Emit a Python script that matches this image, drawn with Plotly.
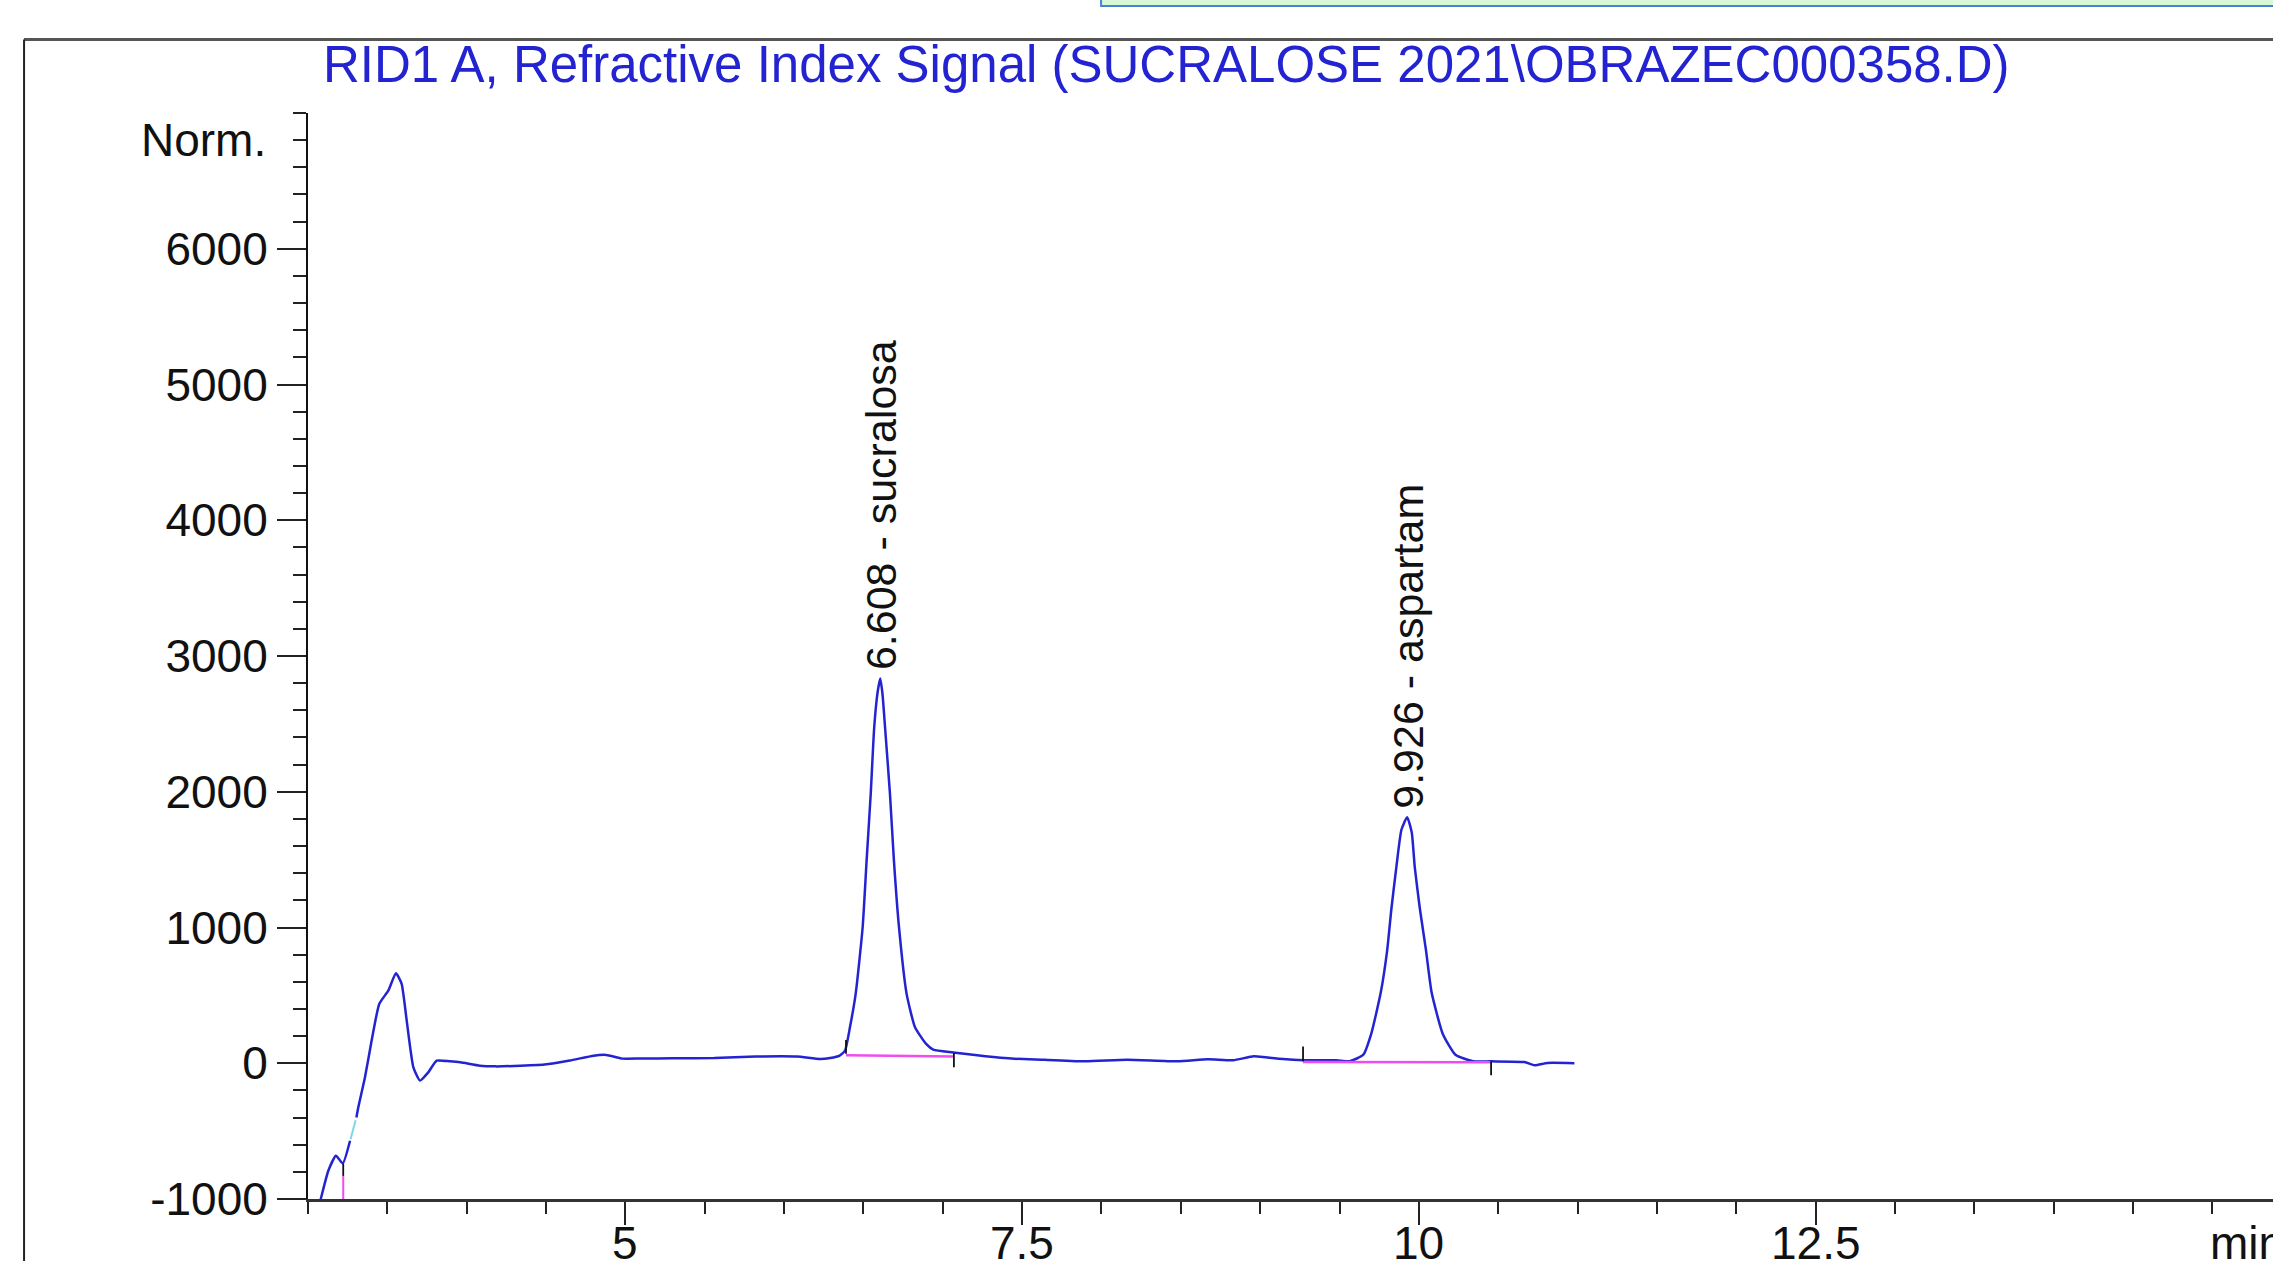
import plotly.graph_objects as go

# ---------------- data ----------------
TITLE = r"RID1 A, Refractive Index Signal (SUCRALOSE 2021\OBRAZEC000358.D)"
Y_LABEL = "Norm."
X_UNIT = "min"

# main detector trace (time in min, signal)
trace_t = [3.05, 3.08, 3.128, 3.176, 3.219, 3.265, None,
           3.305, 3.317, 3.359, 3.401, 3.449, 3.506, 3.554, 3.59, 3.622, 3.664,
           3.706, 3.758, 3.811, 3.895, 3.96, 4.084, 4.18, 4.30, 4.49, 4.65, 4.80,
           4.88, 4.98, 5.10, 5.30, 5.56, 5.82, 6.08, 6.226, 6.29, 6.35, 6.384,
           6.415, 6.451, 6.495, 6.520, 6.546, 6.568, 6.59, 6.606, 6.62, 6.636,
           6.667, 6.692, 6.724, 6.772, 6.825, 6.895, 6.94, 7.066, 7.23, 7.45,
           7.64, 7.90, 8.16, 8.48, 8.67, 8.83, 8.96, 9.12, 9.27, 9.48, 9.565,
           9.65, 9.70, 9.76, 9.80, 9.827, 9.858, 9.89, 9.926, 9.955, 9.974,
           10.006, 10.045, 10.08, 10.15, 10.23, 10.34, 10.455, 10.665, 10.73,
           10.81, 10.98]
trace_s = [-1130, -1001, -792, -681, -738, -571, None,
           -400, -325, -104, 167, 437, 535, 663, 585, 314, -30,
           -128, -67, 19, 14, 7, -18, -23, -20, -10, 20, 56,
           61, 34, 35, 36, 39, 49, 49, 31, 38, 56, 93,
           265, 511, 1002, 1494, 1986, 2477, 2740, 2834, 2720, 2477,
           1986, 1494, 1002, 511, 265, 142, 100, 80, 57, 33,
           26, 14, 26, 14, 29, 22, 51, 33, 22, 22, 15,
           63, 218, 523, 830, 1140, 1445, 1720, 1813, 1700, 1445,
           1140, 830, 523, 218, 63, 15, 14, 9, -15,
           2, 0]

# short light-cyan piece of the signal
cyan_t = [3.268, 3.30]
cyan_s = [-560, -420]

# identified peaks
peak_rt = [6.608, 9.926]
peak_name = ["sucralosa", "aspartam"]
peak_apex = [2834, 1813]

# integration baselines
base_t0 = [6.39, 9.27]
base_t1 = [7.07, 10.455]
base_s0 = [59, 10]
base_s1 = [49, 8]

# integration event tick marks
event_t = [3.222, 6.39, 7.07, 9.27, 10.455]
event_s0 = [-740, 70, 76, 15, 15]
event_s1 = [-830, 172, -30, 123, -88]

# baseline drop of the unresolved early peak
drop_t = [3.222, 3.222]
drop_s = [-830, -1000]

# axes
x_major = [5, 7.5, 10, 12.5]
x_major_text = ["5", "7.5", "10", "12.5"]
x_unit_pos = 15
y_major = [-1000, 0, 1000, 2000, 3000, 4000, 5000, 6000]
y_major_text = ["-1000", "0", "1000", "2000", "3000", "4000", "5000", "6000"]
y_label_pos = 6800

# ---------------- figure ----------------
FONT = "Liberation Sans, Arial, Helvetica, sans-serif"
BLUE = "#2323d2"
MAGENTA = "#f04cf0"

fig = go.Figure()

fig.add_trace(go.Scatter(x=trace_t, y=trace_s, mode="lines",
                         line=dict(color=BLUE, width=2.5, shape="spline",
                                   smoothing=0.5),
                         connectgaps=False, hoverinfo="skip"))
fig.add_trace(go.Scatter(x=cyan_t, y=cyan_s, mode="lines",
                         line=dict(color="#7fd6ea", width=2), hoverinfo="skip"))

# baselines
for t0, t1, s0, s1 in zip(base_t0, base_t1, base_s0, base_s1):
    fig.add_trace(go.Scatter(x=[t0, t1], y=[s0, s1], mode="lines",
                             line=dict(color=MAGENTA, width=2.5), hoverinfo="skip"))
fig.add_trace(go.Scatter(x=drop_t, y=drop_s, mode="lines",
                         line=dict(color=MAGENTA, width=2), hoverinfo="skip"))

# event ticks
ex, ey = [], []
for t, a, b in zip(event_t, event_s0, event_s1):
    ex += [t, t, None]
    ey += [a, b, None]
fig.add_trace(go.Scatter(x=ex, y=ey, mode="lines",
                         line=dict(color="#111111", width=1.8), hoverinfo="skip"))

# peak labels
for rt, name, apex in zip(peak_rt, peak_name, peak_apex):
    fig.add_annotation(x=rt, y=apex, xref="x", yref="y",
                       text=f"{rt:.3f} - {name}", showarrow=False,
                       textangle=-90, xanchor="center", yanchor="bottom",
                       yshift=6, font=dict(family=FONT, size=43, color="#111111"))

# y label "Norm."
fig.add_annotation(x=0, y=y_label_pos, xref="paper", yref="y", text=Y_LABEL,
                   showarrow=False, xanchor="right", yanchor="middle", xshift=-40,
                   font=dict(family=FONT, size=46, color="#111111"))

# x tick labels (drawn as annotations to match their distance from the axis)
for v, txt in zip(x_major, x_major_text):
    fig.add_annotation(x=v, y=0, xref="x", yref="paper", text=txt,
                       showarrow=False, xanchor="center", yanchor="top",
                       yshift=-16, font=dict(family=FONT, size=46, color="#111111"))
# x unit "min"
fig.add_annotation(x=x_unit_pos, y=0, xref="x", yref="paper", text=X_UNIT,
                   showarrow=False, xanchor="left", yanchor="top", yshift=-16,
                   xshift=-4, font=dict(family=FONT, size=46, color="#111111"))

# title
fig.add_annotation(x=0.437, y=1.0446, xref="paper", yref="paper", text=TITLE,
                   showarrow=False, xanchor="center", yanchor="middle",
                   font=dict(family=FONT, size=51, color=BLUE))

# outer frame and the clipped panel above
fig.add_shape(type="line", xref="paper", yref="paper", x0=-0.1445, x1=1.2,
              y0=1.0676, y1=1.0676, line=dict(color="#555555", width=3))
fig.add_shape(type="line", xref="paper", yref="paper", x0=-0.1445, x1=-0.1445,
              y0=-0.3, y1=1.0676, line=dict(color="#222222", width=2))
fig.add_shape(type="rect", xref="paper", yref="paper", x0=0.4036, x1=1.2,
              y0=1.0985, y1=1.2, fillcolor="#d6f8d6",
              line=dict(color="#4a80d8", width=2))

fig.update_xaxes(range=[3, 15.382], tickmode="array", tickvals=x_major,
                 ticktext=["" for _ in x_major], ticks="outside", ticklen=23,
                 tickwidth=2, tickcolor="#222222", showline=True,
                 linecolor="#333333", linewidth=2.5, showgrid=False,
                 zeroline=False, automargin=False,
                 tickfont=dict(family=FONT, size=46, color="#111111"),
                 minor=dict(ticks="outside", ticklen=12, tickwidth=2,
                            tickcolor="#222222", tick0=3, dtick=0.5,
                            showgrid=False))
fig.update_yaxes(range=[-1000, 7000], tickmode="array", tickvals=y_major,
                 ticktext=y_major_text,
                 ticks="outside", ticklen=29, tickwidth=2, tickcolor="#222222",
                 showline=True, linecolor="#111111", linewidth=2,
                 showgrid=False, zeroline=False, automargin=False,
                 tickfont=dict(family=FONT, size=46, color="#111111"),
                 minor=dict(ticks="outside", ticklen=13, tickwidth=2,
                            tickcolor="#222222", tick0=-1000, dtick=200,
                            showgrid=False))

fig.update_layout(width=2273, height=1261,
                  margin=dict(l=308, r=0, t=113, b=62, pad=0),
                  paper_bgcolor="white", plot_bgcolor="white",
                  showlegend=False)

fig.write_html("out.html", config={"displayModeBar": False},
               post_script="document.body.style.margin='0';document.body.style.overflow='hidden';")
